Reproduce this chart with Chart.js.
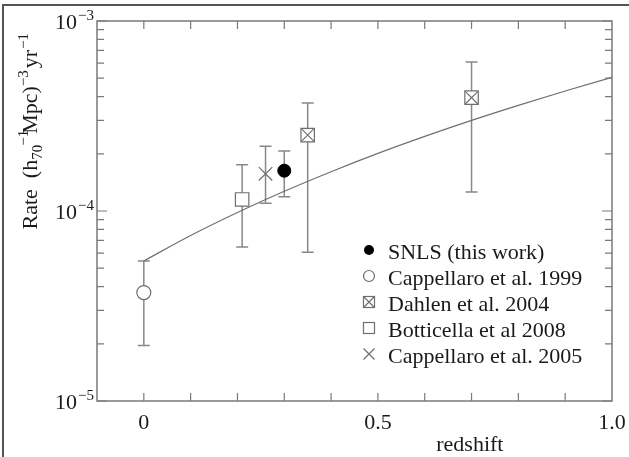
<!DOCTYPE html>
<html>
<head>
<meta charset="utf-8">
<script src="https://cdn.jsdelivr.net/npm/chart.js@4/dist/chart.umd.min.js"></script>
<style>
html, body { margin: 0; padding: 0; background: #fff; }
#wrap { position: relative; width: 629px; height: 457px; overflow: hidden; }
#frame { position: absolute; left: 2px; top: 4px; width: 627px; height: 453px; border-left: 2px solid #555; border-top: 2px solid #555; box-sizing: border-box; pointer-events: none; }
canvas { position: absolute; left: 0; top: 0; }
</style>
</head>
<body>
<div id="wrap"><canvas id="myChart" width="629" height="457"></canvas><div id="frame"></div></div>
<script>
var ctx = document.getElementById('myChart').getContext('2d');

// survey points: redshift, rate, lower / upper end of the error bar
var snlsZ = [0.30];
var snlsRate = [1.63e-4];
var snlsLow = [1.19e-4];
var snlsHigh = [2.07e-4];

var capp99Z = [0.0];
var capp99Rate = [3.72e-5];
var capp99Low = [1.96e-5];
var capp99High = [5.46e-5];

var dahlenZ = [0.35, 0.70];
var dahlenRate = [2.51e-4, 3.95e-4];
var dahlenLow = [6.07e-5, 1.26e-4];
var dahlenHigh = [3.70e-4, 6.09e-4];

var bottZ = [0.21];
var bottRate = [1.15e-4];
var bottLow = [6.47e-5];
var bottHigh = [1.75e-4];

var capp05Z = [0.26];
var capp05Rate = [1.57e-4];
var capp05Low = [1.10e-4];
var capp05High = [2.19e-4];

// model curve
var modelZ = [0, 0.1, 0.2, 0.3, 0.4, 0.5, 0.6, 0.7, 0.8, 0.9, 1.0];
var modelRate = [5.46e-5, 7.43e-5, 9.82e-5, 1.27e-4, 1.61e-4, 2.01e-4, 2.47e-4, 3.0e-4, 3.6e-4, 4.28e-4, 5.05e-4];

var legendLabels = ['SNLS (this work)', 'Cappellaro et al. 1999', 'Dahlen et al. 2004', 'Botticella et al 2008', 'Cappellaro et al. 2005'];

var xTickValues = [0, 0.5, 1.0];
var xTickLabels = ['0', '0.5', '1.0'];
var xMinorTicks = [0, 0.1, 0.2, 0.3, 0.4, 0.5, 0.6, 0.7, 0.8, 0.9];
var yTickValues = [1e-5, 1e-4, 1e-3];
var yTickExponents = ['\u22125', '\u22124', '\u22123'];
var yMinorTicks = [2e-5, 3e-5, 4e-5, 5e-5, 6e-5, 7e-5, 8e-5, 9e-5, 2e-4, 3e-4, 4e-4, 5e-4, 6e-4, 7e-4, 8e-4, 9e-4];

var FONT = '"Liberation Serif", "DejaVu Serif", serif';
var GRAY = '#6e6e6e';
var AXIS = '#7a7a7a';

function points(zs, rates, lows, highs) {
    var out = [];
    for (var i = 0; i < zs.length; i++) {
        out.push({x: zs[i], y: rates[i], lo: lows ? lows[i] : null, hi: highs ? highs[i] : null});
    }
    return out;
}

function marker(c, kind, x, y, s) {
    c.save();
    c.lineWidth = 1.2;
    c.strokeStyle = GRAY;
    if (kind === 'dot') {
        c.fillStyle = '#000';
        c.beginPath(); c.arc(x, y, s, 0, Math.PI * 2); c.fill();
    } else if (kind === 'circle') {
        c.beginPath(); c.arc(x, y, s, 0, Math.PI * 2); c.stroke();
    } else if (kind === 'square' || kind === 'boxx') {
        c.strokeRect(x - s, y - s, 2 * s, 2 * s);
        if (kind === 'boxx') {
            c.beginPath();
            c.moveTo(x - s, y - s); c.lineTo(x + s, y + s);
            c.moveTo(x + s, y - s); c.lineTo(x - s, y + s);
            c.stroke();
        }
    } else if (kind === 'x') {
        c.beginPath();
        c.moveTo(x - s, y - s); c.lineTo(x + s, y + s);
        c.moveTo(x + s, y - s); c.lineTo(x - s, y + s);
        c.stroke();
    }
    c.restore();
}

function drawRuns(c, runs, x, y) {
    // runs: [text, size, dy, extra gap]
    var cx = x;
    runs.forEach(function(r) {
        c.font = r[1] + 'px ' + FONT;
        c.fillText(r[0], cx, y + r[2]);
        cx += c.measureText(r[0]).width + (r[3] || 0);
    });
}

function runsWidth(c, runs) {
    var w = 0;
    runs.forEach(function(r) {
        c.font = r[1] + 'px ' + FONT;
        w += c.measureText(r[0]).width + (r[3] || 0);
    });
    return w;
}

var decor = {
    id: 'decor',
    beforeDatasetsDraw: function(chart) {
        var c = chart.ctx, ys = chart.scales.y;
        c.save();
        c.strokeStyle = '#888';
        c.lineWidth = 1.5;
        chart.data.datasets.forEach(function(ds, i) {
            if (!ds.errorBars) return;
            var meta = chart.getDatasetMeta(i);
            ds.data.forEach(function(p, j) {
                var el = meta.data[j];
                var yl = ys.getPixelForValue(p.lo), yh = ys.getPixelForValue(p.hi);
                c.beginPath();
                c.moveTo(el.x, yl); c.lineTo(el.x, yh);
                c.moveTo(el.x - 6, yl); c.lineTo(el.x + 6, yl);
                c.moveTo(el.x - 6, yh); c.lineTo(el.x + 6, yh);
                c.stroke();
            });
        });
        c.restore();
    },
    afterDraw: function(chart) {
        var c = chart.ctx, a = chart.chartArea, xs = chart.scales.x, ys = chart.scales.y;
        c.save();
        // frame
        c.strokeStyle = AXIS;
        c.lineWidth = 1.5;
        c.strokeRect(a.left, a.top, a.right - a.left, a.bottom - a.top);
        // ticks
        c.lineWidth = 1.2;
        c.beginPath();
        xMinorTicks.forEach(function(v) {
            var px = xs.getPixelForValue(v);
            c.moveTo(px, a.bottom); c.lineTo(px, a.bottom - 8);
            c.moveTo(px, a.top); c.lineTo(px, a.top + 8);
        });
        yMinorTicks.forEach(function(v) {
            var py = ys.getPixelForValue(v);
            c.moveTo(a.left, py); c.lineTo(a.left + 7, py);
            c.moveTo(a.right, py); c.lineTo(a.right - 7, py);
        });
        yTickValues.forEach(function(v) {
            var py = ys.getPixelForValue(v);
            c.moveTo(a.left, py); c.lineTo(a.left + 10, py);
            c.moveTo(a.right, py); c.lineTo(a.right - 10, py);
        });
        c.stroke();

        c.fillStyle = '#1a1a1a';
        c.textBaseline = 'alphabetic';
        // x tick labels
        c.font = '22px ' + FONT;
        c.textAlign = 'center';
        xTickValues.forEach(function(v, i) {
            c.fillText(xTickLabels[i], xs.getPixelForValue(v), a.bottom + 28);
        });
        // y tick labels 10^n
        c.textAlign = 'left';
        yTickValues.forEach(function(v, i) {
            var runs = [['10', 22, 0, 1], [yTickExponents[i], 15, -9]];
            var w = runsWidth(c, runs);
            drawRuns(c, runs, a.left - 3 - w, ys.getPixelForValue(v) + 8);
        });
        // x title
        c.font = '22px ' + FONT;
        c.textAlign = 'center';
        c.fillText('redshift', a.left + (a.right - a.left) * 0.724, a.bottom + 50);
        // y title
        c.textAlign = 'left';
        var title = [['Rate  (h', 22, 0], ['70', 15, 5, -1], ['\u22121', 15, -9, -4], ['Mpc)', 22, 0], ['\u22123', 15, -9, 2], ['yr', 22, 0, 1], ['\u22121', 15, -9]];
        var tw = runsWidth(c, title);
        c.save();
        c.translate(37, a.top + (a.bottom - a.top) * 0.29);
        c.rotate(-Math.PI / 2);
        drawRuns(c, title, -tw / 2, 0);
        c.restore();
        // legend
        var kinds = ['dot', 'circle', 'boxx', 'square', 'x'];
        var sizes = [5, 5.5, 5.5, 5.5, 5.5];
        c.font = '22px ' + FONT;
        c.textAlign = 'left';
        legendLabels.forEach(function(t, i) {
            var base = a.top + 238 + i * 26;
            marker(c, kinds[i], a.left + 272, base - 9, sizes[i]);
            c.fillStyle = '#1a1a1a';
            c.fillText(t, a.left + 291, base);
        });
        c.restore();
    }
};

var chart = new Chart(ctx, {
    type: 'scatter',
    data: {
        datasets: [
            { label: legendLabels[0], data: points(snlsZ, snlsRate, snlsLow, snlsHigh), errorBars: true,
              pointStyle: 'circle', pointRadius: 6.5, backgroundColor: '#000', borderColor: '#000', borderWidth: 1 },
            { label: legendLabels[1], data: points(capp99Z, capp99Rate, capp99Low, capp99High), errorBars: true,
              pointStyle: 'circle', pointRadius: 7, backgroundColor: '#fff', borderColor: GRAY, borderWidth: 1.2 },
            { label: legendLabels[2], data: points(dahlenZ, dahlenRate, dahlenLow, dahlenHigh), errorBars: true,
              pointStyle: 'rect', pointRadius: 9.5, backgroundColor: '#fff', borderColor: GRAY, borderWidth: 1.2 },
            { label: 'dahlen-x', data: points(dahlenZ, dahlenRate), order: -1,
              pointStyle: 'crossRot', pointRadius: 9, borderColor: GRAY, borderWidth: 1.1 },
            { label: legendLabels[3], data: points(bottZ, bottRate, bottLow, bottHigh), errorBars: true,
              pointStyle: 'rect', pointRadius: 9.5, backgroundColor: '#fff', borderColor: GRAY, borderWidth: 1.2 },
            { label: legendLabels[4], data: points(capp05Z, capp05Rate, capp05Low, capp05High), errorBars: true,
              pointStyle: 'crossRot', pointRadius: 9.5, borderColor: GRAY, borderWidth: 1.2 },
            { label: 'model', data: points(modelZ, modelRate), showLine: true, order: 5,
              pointRadius: 0, borderColor: '#707070', borderWidth: 1.2, cubicInterpolationMode: 'monotone' }
        ]
    },
    options: {
        responsive: false,
        animation: false,
        layout: { padding: { left: 97, top: 21, right: 17, bottom: 56 } },
        plugins: { legend: { display: false }, tooltip: { enabled: false } },
        scales: {
            x: { type: 'linear', min: -0.1, max: 1.0, display: false },
            y: { type: 'logarithmic', min: 1e-5, max: 1e-3, display: false }
        }
    },
    plugins: [decor]
});
</script>
</body>
</html>
